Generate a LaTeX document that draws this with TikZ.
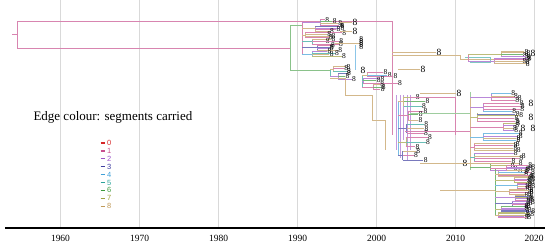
\documentclass[tikz,border=0pt]{standalone}
\usepackage{fontspec}
\setmainfont{Liberation Serif}
\newfontfamily\legfont{Liberation Sans}
\usetikzlibrary{positioning}

\definecolor{s0}{HTML}{D62728}
\definecolor{s1}{HTML}{C8508E}
\definecolor{s2}{HTML}{9B55C8}
\definecolor{s3}{HTML}{3F3FA0}
\definecolor{s4}{HTML}{3FA0D8}
\definecolor{s5}{HTML}{2BA39A}
\definecolor{s6}{HTML}{3C9A3C}
\definecolor{s7}{HTML}{A0A040}
\definecolor{s8}{HTML}{C09A5A}

\pgfmathdeclarerandomlist{segs}{{s1}{s1}{s1}{s2}{s2}{s8}{s8}{s8}{s3}{s4}{s5}{s6}{s7}}

% clade: name, backbone x, y top, y bottom, groups, tips per group, tip x min, tip x max
\newcommand\clade[8]{%
  \pgfmathrandomitem{\bcol}{segs}%
  \pgfmathsetmacro\gh{(#4-#3)/#5}%
  \draw[edge,draw=\bcol!70] (#2,#3+0.5*\gh) -- (#2,#4-0.5*\gh);
  \foreach \gp in {1,...,#5}{%
    \pgfmathsetmacro\gy{#3+\gh*(\gp-1)}%
    \pgfmathsetmacro\gx{#2+(0.1+rnd*0.75)*(#7-#2)}%
    \pgfmathrandomitem{\gcol}{segs}%
    \draw[edge,draw=\gcol!70] (#2,\gy+0.5*\gh) -- (\gx,\gy+0.5*\gh)
      (\gx,\gy+0.5*\gh/#6) -- (\gx,\gy+\gh-0.5*\gh/#6);
    \foreach \tp in {1,...,#6}{%
      \pgfmathsetmacro\ty{\gy+\gh*(\tp-0.5)/#6+0.6*rand}%
      \pgfmathsetmacro\tx{#7+rnd*(#8-#7)}%
      \pgfmathrandomitem{\tcol}{segs}%
      \draw[edge,draw=\tcol!70] (\gx,\ty) -- (\tx,\ty) node[tip] (#1-\gp-\tp) {8};
    }%
  }%
}

\begin{document}
\begin{tikzpicture}[x=1pt,y=-1pt,
    grid/.style={draw=gray!30,line width=0.8pt},
    edge/.style={line width=0.45pt},
    tip/.style={font=\fontsize{7.5}{7.5}\selectfont,inner sep=0.2pt,anchor=west,text=black},
    bigtip/.style={font=\fontsize{9.5}{9.5}\selectfont,inner sep=0.5pt,anchor=west,text=black},
    yearlab/.style={font=\fontsize{9.5}{10}\selectfont},
    legdash/.style={line width=1.3pt},
    legnum/.style={font=\legfont\fontsize{7.5}{7.5}\selectfont,inner sep=0pt,anchor=west}
  ]
  \useasboundingbox (0,0) rectangle (550,247);
  \pgfmathsetseed{11}

  % time axis
  \foreach \yr/\gx in {1960/60.5,1970/139.5,1980/218.5,1990/297.5,2000/376.5,2010/455.5,2020/534}{
    \draw[grid] (\gx,0) -- (\gx,228);
    \node[yearlab] (y\yr) at (\gx,238) {\yr};
  }
  \draw[line width=1.4pt] (5,228) -- (545,228);

  % legend
  \node[font=\fontsize{13}{13}\selectfont,anchor=west] (title) at (30,117) {Edge colour: segments carried};
  \foreach \k in {0,...,8}{
    \draw[legdash,s\k] (100.5,143+7.9*\k) -- (104.5,143+7.9*\k);
    \node[legnum,text=s\k] (leg\k) at (107,143+7.9*\k) {\k};
  }

  % root
  \draw[edge,s1!70] (12,34) -- (17,34) (17,21) -- (17,48);
  \draw[edge,s1!70] (17,21) -- (392,21);
  \draw[edge,s1!70] (17,48) -- (290,48);

  % 1990s clade
  \draw[edge,s6!60] (290,25) -- (290,70) (290,25) -- (302,25) (290,70) -- (330,70);
  \clade{a}{302}{19}{57}{6}{4}{324}{346}
  \draw[edge,s8!70] (340,22) -- (352,22) node[bigtip] (a1) {8};
  \draw[edge,s8!70] (340,31) -- (352,31) node[bigtip] (a2) {8};
  \draw[edge,s8!70] (335,43) -- (360,43);
  \foreach \k in {0,...,4} \node[tip] (ab\k) at (359,39+2*\k) {8};
  \draw[edge,s4!60] (355,45) -- (355,70);
  \clade{b}{330}{65}{80}{2}{3}{342}{352}
  \node[bigtip] (b1) at (360,70) {8};

  % stairs into the 2000s clade
  \draw[edge,s8!70] (330,78) -- (345,78) -- (345,95) -- (372,95) -- (372,120) -- (385,120) -- (385,150);
  \clade{c}{362}{72}{90}{3}{3}{376}{398}
  \draw[edge,s1!70] (392,21) -- (392,135);
  \foreach \vx/\vb in {396/150,400/158,403/140,407/160,410/150}
    \draw[edge,s2!60] (\vx,95) -- (\vx,\vb);
  \clade{d}{398}{95}{162}{5}{3}{412}{428}
  \draw[edge,s8!70] (392,52) -- (436,52) node[bigtip] (d1) {8};
  \draw[edge,s8!70] (398,69) -- (420,69) node[bigtip] (d2) {8};
  \draw[edge,s8!70] (420,93) -- (456,93) node[bigtip] (d3) {8};

  % recent upper cluster
  \draw[edge,s8!70] (392,55) -- (460,55) (460,55) -- (460,59) (460,59) -- (520,59);
  \draw[edge,s5!60] (465,57) -- (490,57) -- (490,62) -- (470,62);
  \clade{e}{468}{51}{64}{2}{5}{522}{528}
  \node[bigtip] (e1) at (530,53) {8};

  % recent lower clusters
  \draw[edge,s1!70] (410,97) -- (455,97) (455,97) -- (455,135) (405,131) -- (470,131);
  \draw[edge,s6!50] (410,113) -- (470,113) (470,92) -- (470,170);
  \clade{f}{470}{92}{172}{8}{4}{510}{522}
  \node[bigtip] (f1) at (528,103) {8};
  \node[bigtip] (f2) at (528,117) {8};
  \node[bigtip] (f3) at (520,128) {8};
  \node[bigtip] (f4) at (530,128) {8};
  \draw[edge,s8!70] (420,163) -- (462,163) node[bigtip] (g0) {8};
  \draw[edge,s8!70] (462,163) -- (495,163) (440,190) -- (495,190);
  \clade{g}{495}{165}{218}{9}{5}{524}{531}
\end{tikzpicture}
\end{document}
